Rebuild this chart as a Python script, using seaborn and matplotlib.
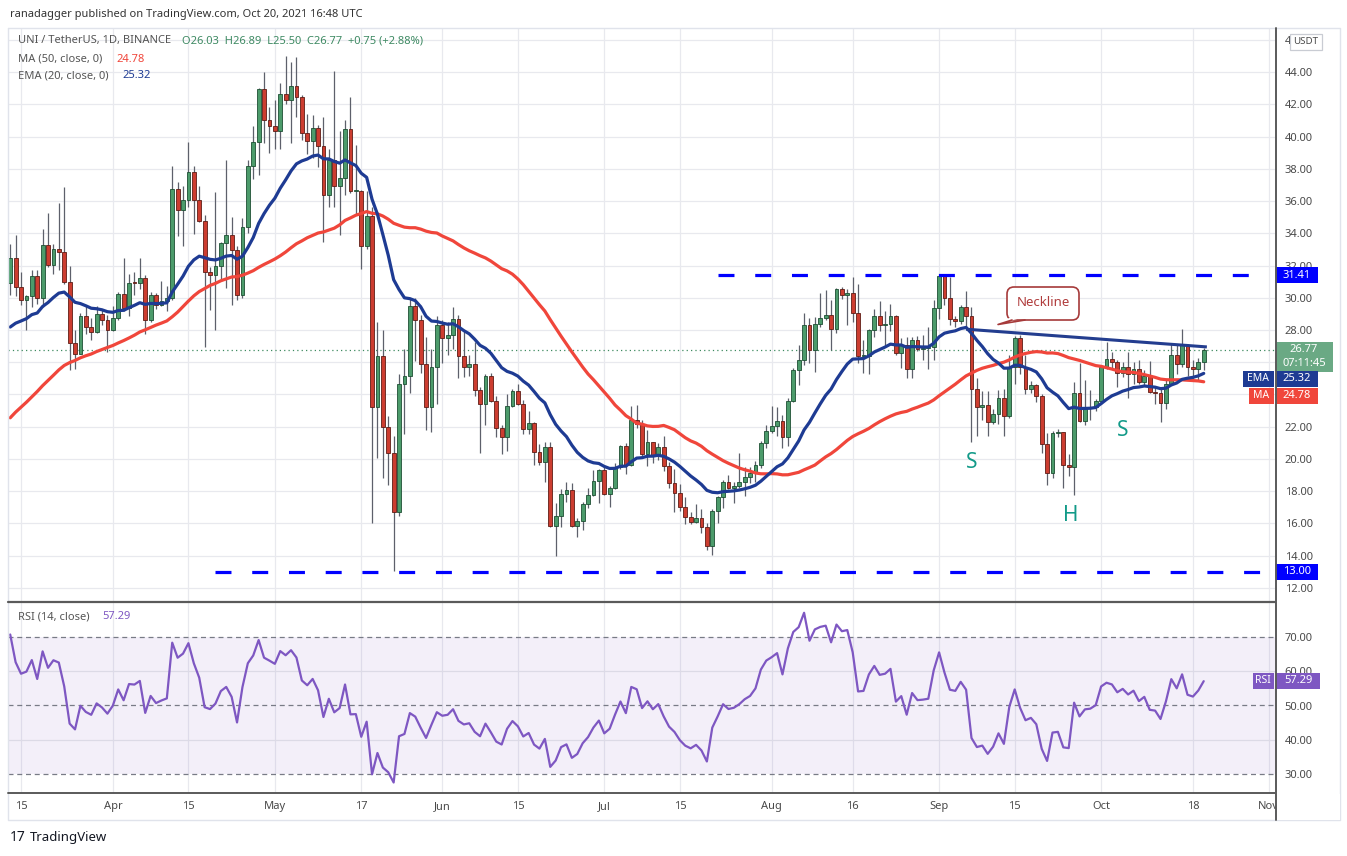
import numpy as np
import pandas as pd
import matplotlib
matplotlib.use("Agg")
import matplotlib.pyplot as plt
import matplotlib.dates as mdates
from matplotlib.patches import Rectangle, FancyBboxPatch, Polygon
from matplotlib.lines import Line2D
from matplotlib.transforms import Affine2D
import seaborn as sns

W, H = 1347, 856

# ---- data (UNI/USDT daily) ----
START = "2021-03-13"
OPEN_FIRST = 30.94
CLOSE = [32.49, 30.69, 29.86, 30.08, 31.32, 30.01, 33.30, 32.04, 33.00, 32.83,
         30.98, 27.22, 26.52, 28.89, 28.21, 27.90, 29.02, 28.62, 28.03, 28.73,
         30.26, 29.34, 30.94, 30.90, 31.25, 28.62, 30.19, 29.56, 29.79, 29.97,
         36.73, 35.46, 36.09, 37.78, 36.09, 34.77, 31.61, 31.39, 31.99, 33.41,
         33.90, 32.96, 30.19, 34.36, 38.19, 39.65, 42.92, 41.00, 40.67, 40.33,
         42.65, 42.24, 43.14, 42.47, 40.22, 39.72, 40.55, 39.43, 36.39, 38.57,
         36.90, 37.40, 40.44, 36.61, 36.64, 33.19, 35.04, 23.21, 26.36, 21.97,
         20.40, 16.73, 24.68, 25.13, 29.47, 28.62, 25.91, 23.21, 25.73, 28.28,
         27.49, 27.67, 28.68, 26.41, 25.69, 25.87, 24.27, 23.44, 25.13, 23.62,
         21.91, 21.37, 23.26, 24.23, 23.44, 21.86, 22.24, 20.44, 19.79, 20.73,
         15.82, 16.45, 17.80, 18.08, 15.82, 16.18, 17.18, 17.76, 18.66, 19.32,
         17.80, 18.21, 19.50, 20.78, 19.61, 22.42, 22.20, 20.33, 21.03, 20.24,
         20.73, 19.54, 18.48, 17.92, 17.02, 16.41, 16.12, 16.34, 15.78, 14.61,
         16.79, 17.63, 18.59, 18.21, 18.30, 18.55, 18.89, 19.11, 19.61, 21.00,
         21.75, 22.04, 22.38, 21.37, 23.62, 25.51, 26.14, 28.32, 26.77, 28.39,
         28.77, 28.95, 28.05, 30.53, 30.15, 30.31, 29.07, 26.36, 26.41, 27.99,
         28.89, 28.28, 28.39, 28.84, 26.59, 27.04, 25.58, 27.38, 26.82, 26.86,
         26.93, 29.36, 31.36, 29.97, 28.66, 28.57, 29.40, 28.84, 24.34, 23.21,
         23.32, 22.31, 22.81, 23.77, 22.65, 25.69, 27.49, 25.69, 24.34, 24.56,
         23.89, 20.91, 19.11, 21.63, 21.70, 19.61, 19.50, 24.07, 22.36, 23.17,
         23.25, 23.62, 25.73, 26.18, 26.03, 25.35, 25.69, 25.24, 25.58, 24.79,
         25.13, 24.16, 24.10, 23.48, 24.68, 26.48, 25.87, 27.09, 25.69, 25.56,
         26.03, 26.77]
HIGH = [33.35, 33.90, 31.60, 30.15, 31.70, 31.70, 34.25, 35.26, 33.35, 35.90,
        36.84, 31.95, 28.00, 29.07, 29.50, 28.73, 29.50, 29.30, 28.95, 29.50,
        30.37, 32.49, 31.50, 31.59, 32.49, 31.43, 30.37, 30.30, 31.05, 30.70,
        38.19, 37.18, 36.95, 39.65, 38.19, 36.90, 35.15, 31.90, 36.57, 33.46,
        38.53, 35.00, 33.20, 34.92, 38.53, 40.67, 43.03, 44.00, 41.80, 42.24,
        43.30, 45.00, 44.65, 44.95, 42.58, 41.40, 41.34, 40.73, 41.23, 39.20,
        44.09, 40.33, 41.00, 42.47, 39.47, 36.70, 36.60, 35.60, 28.50, 27.99,
        22.65, 21.41, 25.24, 26.82, 29.97, 29.97, 28.95, 27.54, 26.82, 28.84,
        28.62, 28.50, 29.40, 28.95, 27.94, 26.48, 27.27, 24.45, 25.29, 25.35,
        23.89, 22.09, 24.00, 24.34, 24.68, 23.66, 22.99, 22.31, 20.96, 21.07,
        21.07, 17.24, 18.14, 18.59, 18.48, 16.34, 17.36, 18.21, 19.34, 19.38,
        19.50, 18.30, 19.72, 20.89, 21.00, 23.26, 23.32, 22.40, 21.77, 21.07,
        21.00, 21.45, 19.79, 19.36, 18.44, 17.63, 16.72, 17.18, 16.90, 16.00,
        16.90, 17.70, 18.71, 18.98, 18.59, 20.40, 19.50, 19.50, 19.88, 21.12,
        22.09, 23.26, 23.21, 22.72, 23.77, 25.64, 27.09, 29.07, 28.73, 28.80,
        30.30, 30.46, 29.86, 30.60, 30.69, 30.53, 31.27, 30.87, 27.38, 28.05,
        29.29, 29.79, 29.20, 29.63, 28.95, 27.49, 27.54, 27.54, 27.60, 27.72,
        28.21, 29.86, 31.43, 31.43, 31.27, 28.84, 29.52, 30.42, 29.40, 25.00,
        24.23, 24.23, 23.10, 24.29, 24.34, 26.48, 27.60, 27.72, 26.48, 24.83,
        24.68, 24.00, 21.63, 21.75, 21.85, 21.68, 20.28, 24.79, 25.96, 24.90,
        24.30, 23.70, 25.80, 27.27, 26.63, 26.14, 26.03, 26.66, 26.03, 26.14,
        25.51, 26.09, 24.45, 24.45, 24.90, 27.15, 27.04, 28.05, 27.15, 26.13,
        26.24, 26.89]
LOW = [30.20, 30.08, 29.56, 27.99, 29.40, 29.60, 29.40, 31.90, 31.50, 31.70,
       30.87, 25.53, 25.58, 26.50, 27.76, 27.38, 27.83, 28.28, 26.64, 27.94,
       28.60, 29.18, 28.84, 30.20, 30.53, 27.76, 28.50, 29.30, 29.47, 29.18,
       29.86, 33.80, 33.19, 35.60, 33.98, 34.70, 26.97, 29.23, 27.99, 31.10,
       30.60, 29.52, 29.86, 29.97, 34.02, 37.36, 37.63, 39.60, 38.98, 39.20,
       39.25, 42.00, 39.60, 41.23, 39.77, 38.93, 38.64, 38.08, 33.46, 35.60,
       35.60, 33.90, 36.40, 36.50, 35.20, 31.77, 33.00, 16.00, 20.06, 18.82,
       18.37, 13.03, 16.45, 21.52, 24.11, 26.10, 25.35, 21.82, 21.70, 23.44,
       25.96, 26.48, 26.80, 25.00, 25.06, 25.13, 23.89, 20.40, 22.09, 23.55,
       21.37, 20.28, 20.51, 23.21, 23.32, 21.52, 21.52, 19.60, 19.60, 18.60,
       15.78, 14.00, 15.78, 17.36, 15.78, 15.15, 15.60, 16.95, 17.70, 17.24,
       17.76, 17.00, 18.14, 19.38, 19.05, 19.56, 21.90, 20.06, 19.56, 19.72,
       19.95, 19.27, 18.21, 16.72, 16.79, 15.96, 15.96, 16.05, 15.44, 14.38,
       14.02, 16.05, 16.95, 18.14, 17.25, 18.21, 17.70, 18.53, 18.60, 19.43,
       20.69, 21.59, 21.41, 20.69, 20.80, 23.55, 24.56, 25.80, 25.96, 25.42,
       28.21, 28.62, 26.77, 27.83, 29.92, 28.28, 28.50, 25.96, 25.35, 25.29,
       27.54, 27.94, 26.97, 27.94, 26.48, 25.64, 25.02, 25.02, 26.70, 26.14,
       25.58, 26.14, 28.66, 29.52, 28.28, 28.21, 28.39, 28.17, 21.07, 21.41,
       22.42, 21.41, 22.20, 22.20, 21.41, 22.54, 24.68, 25.24, 24.00, 24.11,
       23.55, 20.40, 18.37, 18.82, 21.37, 18.21, 18.93, 17.76, 22.27, 22.13,
       22.40, 22.95, 23.44, 25.60, 25.60, 24.45, 25.06, 23.77, 24.68, 24.68,
       24.61, 24.11, 23.44, 22.31, 23.10, 24.56, 25.29, 25.69, 25.13, 24.88,
       24.88, 25.50]

# closes before the visible window (Jan 12 - Mar 12), only used to warm up MA/EMA/RSI
WARMUP_CLOSE = [8.6, 8.9, 9.5, 9.3, 9.6, 10.2, 10.8, 10.5, 11.2, 10.3,
                12.0, 13.1, 14.3, 14.9, 14.5, 13.6, 15.2, 16.0, 16.7, 16.3,
                17.2, 18.3, 19.9, 20.6, 21.9, 22.5, 21.4, 22.2, 21.8, 22.6,
                22.4, 22.0, 22.8, 22.2, 21.3, 22.0, 22.9, 22.2, 23.6, 23.2,
                23.9, 21.0, 18.8, 20.6, 20.1, 21.5, 22.3, 21.6,
                25.7, 25.3, 28.0, 27.2, 28.9, 30.1, 31.6, 32.2, 32.7, 31.9, 32.5, 31.7]

TICK_DATES = ["2021-03-15", "2021-04-01", "2021-04-15", "2021-05-01", "2021-05-17",
              "2021-06-01", "2021-06-15", "2021-07-01", "2021-07-15", "2021-08-01",
              "2021-08-16", "2021-09-01", "2021-09-15", "2021-10-01", "2021-10-18",
              "2021-11-01"]
TICK_LABELS = ["15", "Apr", "15", "May", "17", "Jun", "15", "Jul", "15", "Aug",
               "16", "Sep", "15", "Oct", "18", "Nov"]
PRICE_TICKS = list(range(12, 48, 2))
HIDDEN_TICKS = [24, 26]  # sit under the EMA/MA/last-price boxes

RESISTANCE = 31.41
SUPPORT = 13.00
RES_FROM, SUP_FROM, LEVEL_TO = "2021-07-22", "2021-04-20", "2021-11-01"
NECK_DATES = ["2021-09-06 00:00", "2021-10-20 14:00"]
NECK_PRICES = [28.05, 26.95]
LAST_CLOSE = 26.77

# ---- indicators ----
full = pd.Series(WARMUP_CLOSE + CLOSE, dtype=float)
n = len(CLOSE)
ema20 = full.ewm(span=20, adjust=False).mean().iloc[-n:].values
ma50 = full.rolling(50).mean().iloc[-n:].values
delta = full.diff()
up = delta.clip(lower=0).ewm(alpha=1 / 14, adjust=False).mean()
dn = (-delta.clip(upper=0)).ewm(alpha=1 / 14, adjust=False).mean()
rsi = (100 - 100 / (1 + up / dn)).iloc[-n:].values

dates = pd.date_range(START, periods=n, freq="D")
xs = mdates.date2num(dates)
opens = np.array([OPEN_FIRST] + CLOSE[:-1])
closes = np.array(CLOSE)
highs = np.array(HIGH)
lows = np.array(LOW)

# ---- style ----
sns.set_theme(style="white")
plt.rcParams["font.family"] = ["Noto Sans", "DejaVu Sans"]

GREEN, GREEN_E = "#4c9b6b", "#1d4f33"
RED, RED_E = "#cc3d30", "#5e1c15"
WICK = "#5d606b"
NAVY = "#1e3b93"
MARED = "#f0463b"
BLUE = "#0000ff"
PURPLE = "#7e57c2"
GRID = "#e8e9ee"
AXTXT = "#4a4a4a"

fig = plt.figure(figsize=(W / 100, H / 100), dpi=100)
fig.patch.set_facecolor("white")
PIX = Affine2D().scale(1 / W, -1 / H).translate(0, 1) + fig.transFigure


def axes_px(left, top, right, bottom):
    return fig.add_axes([left / W, 1 - bottom / H, (right - left) / W, (bottom - top) / H])


ax = axes_px(8, 28, 1275, 602)
ax_r = axes_px(8, 603, 1275, 793)
x0 = xs[0] - 0.41
x1 = xs[0] + 234.2
tick_x = mdates.date2num(pd.to_datetime(TICK_DATES))

for a in (ax, ax_r):
    a.set_facecolor("white")
    for s in a.spines.values():
        s.set_visible(False)
    a.set_xlim(x0, x1)
    for tx in tick_x:
        a.axvline(tx, color=GRID, lw=0.9, zorder=0)

# ---- price pane ----
ax.set_ylim(11.13, 46.73)
for p in PRICE_TICKS:
    ax.axhline(p, color=GRID, lw=0.9, zorder=0)

up_mask = closes >= opens
ax.vlines(xs, lows, highs, color=WICK, lw=0.9, zorder=2)
body_lo = np.minimum(opens, closes)
body_h = np.maximum(np.abs(closes - opens), 0.06)
ax.bar(xs[up_mask], body_h[up_mask], bottom=body_lo[up_mask], width=0.7,
       color=GREEN, edgecolor=GREEN_E, linewidth=0.6, zorder=3)
ax.bar(xs[~up_mask], body_h[~up_mask], bottom=body_lo[~up_mask], width=0.7,
       color=RED, edgecolor=RED_E, linewidth=0.6, zorder=3)

sns.lineplot(x=xs, y=ma50, ax=ax, color=MARED, linewidth=2.3, zorder=4, legend=False)
sns.lineplot(x=xs, y=ema20, ax=ax, color=NAVY, linewidth=2.3, zorder=5, legend=False)

ax.axhline(LAST_CLOSE, color="#3f8a60", lw=0.9, ls=(0, (1, 2.5)), zorder=1)
rx = mdates.date2num(pd.to_datetime([RES_FROM, SUP_FROM, LEVEL_TO]))
ax.plot([rx[0], rx[2]], [RESISTANCE, RESISTANCE], color=BLUE, lw=2.3, ls=(0, (5, 6.5)), zorder=6)
ax.plot([rx[1], rx[2]], [SUPPORT, SUPPORT], color=BLUE, lw=2.3, ls=(0, (5, 6.5)), zorder=6)
nx = mdates.date2num(pd.to_datetime(NECK_DATES))
ax.plot(nx, NECK_PRICES, color="#233d8f", lw=2.2, zorder=6, solid_capstyle="butt")

ax.set_xticks([])
ax.yaxis.tick_right()
ax.set_yticks(PRICE_TICKS)
ax.set_yticklabels(["" if v in HIDDEN_TICKS else f"{v:.2f}" for v in PRICE_TICKS])
ax.tick_params(axis="y", length=0, pad=7, labelsize=8, labelcolor=AXTXT)

# ---- RSI pane ----
ax_r.set_ylim(24.45, 79.93)
ax_r.axhspan(30, 70, color=PURPLE, alpha=0.09, lw=0, zorder=0)
for lv in (40, 60):
    ax_r.axhline(lv, color="#dcdae6", lw=0.9, zorder=1)
for lv in (30, 50, 70):
    ax_r.axhline(lv, color="#787b86", lw=0.9, ls=(0, (4, 3)), zorder=1)
sns.lineplot(x=xs, y=rsi, ax=ax_r, color=PURPLE, linewidth=1.6, zorder=3, legend=False)
ax_r.yaxis.tick_right()
ax_r.set_yticks([30, 40, 50, 60, 70])
ax_r.set_yticklabels(["30.00", "40.00", "50.00", "60.00", "70.00"])
ax_r.tick_params(axis="y", length=0, pad=7, labelsize=8, labelcolor=AXTXT)
ax_r.set_xticks(tick_x)
ax_r.set_xticklabels(TICK_LABELS)
ax_r.tick_params(axis="x", length=0, pad=5.5, labelsize=8, labelcolor=AXTXT)
for a in (ax, ax_r):
    a.set_xlabel("")
    a.set_ylabel("")


# ---- overlays in pixel coordinates ----
def rect(x, y, w, h, fc, ec="none", lw=0, z=5):
    fig.add_artist(Rectangle((x, y), w, h, transform=PIX, facecolor=fc, edgecolor=ec, lw=lw, zorder=z))


def txt(x, y, s, color="#333333", size=8, ha="left", weight="normal", z=10):
    fig.text(x, y, s, transform=PIX, color=color, fontsize=size, ha=ha, va="center",
             fontweight=weight, zorder=z)


def line(xv, yv, color, lw=1.0, z=6):
    fig.add_artist(Line2D(xv, yv, transform=PIX, color=color, lw=lw, zorder=z))


# cover area right of the axis in the date row, frame and separators
rect(1276, 794, 64, 26, "white", z=4)
line([8, 1340, 1340, 8, 8], [28, 28, 820, 820, 28], "#e0e3eb", 1.0, z=3)
line([8, 1275], [602.5, 602.5], "#5a5a5a", 1.6)
line([8, 1275], [793.5, 793.5], "#5a5a5a", 1.4)
line([1275.5, 1275.5], [28, 820], "#5a5a5a", 1.4)

# header and legends
txt(10, 14, "ranadagger published on TradingView.com, Oct 20, 2021 16:48 UTC", "#333333", 8)
txt(18, 41, "UNI / TetherUS, 1D, BINANCE", "#555555", 8)
txt(182, 41, "O26.03  H26.89  L25.50  C26.77  +0.75 (+2.88%)", "#3e8a63", 8)
txt(18, 59, "MA (50, close, 0)", "#555555", 8)
txt(116, 59, "24.78", MARED, 8)
txt(18, 76, "EMA (20, close, 0)", "#555555", 8)
txt(122, 76, "25.32", NAVY, 8)
txt(18, 617, "RSI (14, close)", "#555555", 8)
txt(102, 617, "57.29", PURPLE, 8)

# price scale boxes
rect(1290, 34, 32, 16, "white", "#c9ccd3", 0.9, z=6)
txt(1306, 42, "USDT", AXTXT, 7, ha="center")
rect(1276, 267, 42, 16, BLUE)
txt(1297, 275, "31.41", "white", 8, "center", "bold")
rect(1276, 564, 42, 16, BLUE)
txt(1297, 572, "13.00", "white", 8, "center", "bold")
rect(1276, 342, 57, 30, "#6aa984")
txt(1304, 350, "26.77", "white", 8, "center", "bold")
txt(1304, 364, "07:11:45", "white", 8, "center", "bold")
rect(1243, 371, 31, 16, NAVY)
rect(1276, 371, 42, 16, NAVY)
txt(1258, 379, "EMA", "white", 7.5, "center", "bold")
txt(1297, 379, "25.32", "white", 8, "center", "bold")
rect(1249, 388, 25, 16, MARED)
rect(1276, 388, 42, 16, MARED)
txt(1261, 396, "MA", "white", 7.5, "center", "bold")
txt(1297, 396, "24.78", "white", 8, "center", "bold")
rect(1253, 673, 21, 16, PURPLE)
rect(1276, 673, 44, 16, PURPLE)
txt(1263, 681, "RSI", "white", 7.5, "center", "bold")
txt(1298, 681, "57.29", "white", 8, "center", "bold")

# neckline callout
fig.add_artist(FancyBboxPatch((1007, 287), 72, 33, boxstyle="round,pad=0,rounding_size=7",
                              transform=PIX, facecolor="white", edgecolor="#a63a3a", lw=1.2, zorder=7))
fig.add_artist(Polygon([(1011, 317), (998, 324), (1025, 317)], closed=True, transform=PIX,
                       facecolor="white", edgecolor="none", zorder=8))
line([1012, 998, 1025], [320, 324.5, 320], "#a63a3a", 1.2, z=9)
txt(1043, 302, "Neckline", "#b03c3c", 9.5, "center")

# pattern letters
TEAL = "#129a88"
txt(972, 463, "S", TEAL, 15, "center")
txt(1071, 516, "H", TEAL, 15, "center")
txt(1123, 431, "S", TEAL, 15, "center")

# footer
txt(10, 838, "17", "#131722", 10, weight="bold")
txt(30, 838, "TradingView", "#131722", 9.5)

fig.savefig("out.png", dpi=100, facecolor="white")
